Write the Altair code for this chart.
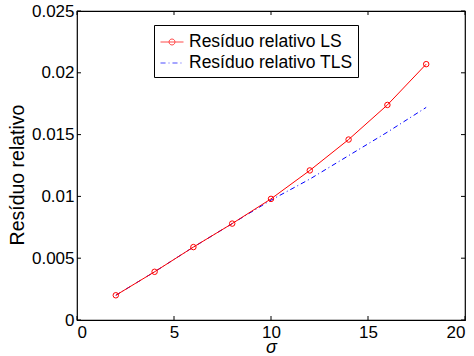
import altair as alt
import pandas as pd

sigma = [2, 4, 6, 8, 10, 12, 14, 16, 18]
res_ls = [0.0020, 0.0039, 0.0059, 0.0078, 0.0098, 0.0121, 0.0146, 0.0174, 0.0207]
res_tls = [0.0020, 0.0039, 0.0059, 0.0078, 0.0097, 0.0114, 0.0133, 0.0152, 0.0172]
series_names = ["Resíduo relativo LS", "Resíduo relativo TLS"]
x_ticks = [0, 5, 10, 15, 20]
y_ticks = [0, 0.005, 0.01, 0.015, 0.02, 0.025]

W, H = 388, 309
FONT = "Liberation Sans"

rows = []
for s, a, b in zip(sigma, res_ls, res_tls):
    rows.append({"sigma": s, "value": a, "series": series_names[0]})
    rows.append({"sigma": s, "value": b, "series": series_names[1]})
df = pd.DataFrame(rows)

xscale = alt.Scale(domain=[0, 20], nice=False, zero=False)
yscale = alt.Scale(domain=[0, 0.025], nice=False, zero=False)

xaxis = alt.Axis(values=x_ticks, grid=False, ticks=False, domain=False,
                 labelFont=FONT, labelFontSize=17, labelColor="black",
                 labelPadding=4, title="σ", titleFont=FONT, titleFontSize=18,
                 titleFontStyle="italic", titleFontWeight="normal",
                 titleColor="black", titlePadding=-2)
yaxis = alt.Axis(values=y_ticks, grid=False, ticks=False, domain=False, format="~g",
                 labelFont=FONT, labelFontSize=17, labelColor="black",
                 labelPadding=3, title="Resíduo relativo", titleFont=FONT,
                 titleFontSize=19.5, titleFontWeight="normal", titleColor="black",
                 titlePadding=4, titleY=H / 2 + 9)

base = alt.Chart(df)

ls_line = base.transform_filter(alt.datum.series == series_names[0]).mark_line(
    color="#ff0000", strokeWidth=1
).encode(
    x=alt.X("sigma:Q", scale=xscale, axis=xaxis),
    y=alt.Y("value:Q", scale=yscale, axis=yaxis),
)
ls_pts = base.transform_filter(alt.datum.series == series_names[0]).mark_point(
    shape="circle", filled=False, size=30, color="#ff0000", strokeWidth=1, opacity=1
).encode(x=alt.X("sigma:Q", scale=xscale), y=alt.Y("value:Q", scale=yscale))
tls_line = base.transform_filter(alt.datum.series == series_names[1]).mark_line(
    color="#0000ff", strokeWidth=1, strokeDash=[5, 3, 1, 3]
).encode(x=alt.X("sigma:Q", scale=xscale), y=alt.Y("value:Q", scale=yscale))

ls_sym = ("M-1,0 L1,0 M-0.26,0 A0.26,0.26 0 1,1 0.26,0 A0.26,0.26 0 1,1 -0.26,0")
tls_sym = ("M-1,0 L-0.56,0 M-0.3,0 L-0.22,0 M0.04,0 L0.48,0 M0.74,0 L0.82,0")

legend_layer = base.transform_filter("false").mark_point(filled=False, strokeWidth=1).encode(
    x=alt.X("sigma:Q", scale=xscale),
    y=alt.Y("value:Q", scale=yscale),
    color=alt.Color("series:N",
                    scale=alt.Scale(domain=series_names, range=["#ff0000", "#0000ff"]),
                    legend=alt.Legend(title=None, orient="none", legendX=77, legendY=14,
                                      labelFont=FONT, labelFontSize=17.5, labelColor="black",
                                      symbolSize=529, symbolStrokeWidth=1,
                                      labelOffset=5, rowPadding=0, padding=5,
                                      symbolOffset=1,
                                      strokeColor="black", fillColor="white",
                                      labelLimit=400)),
    shape=alt.Shape("series:N",
                    scale=alt.Scale(domain=series_names, range=[ls_sym, tls_sym])),
)

x_tick_df = pd.DataFrame({"t": x_ticks})
y_tick_df = pd.DataFrame({"t": y_ticks})
xt_bot = alt.Chart(x_tick_df).mark_rule(color="black", strokeWidth=1).encode(
    x=alt.X("t:Q", scale=xscale), y=alt.value(H), y2=alt.value(H - 4))
xt_top = alt.Chart(x_tick_df).mark_rule(color="black", strokeWidth=1).encode(
    x=alt.X("t:Q", scale=xscale), y=alt.value(0), y2=alt.value(4))
yt_left = alt.Chart(y_tick_df).mark_rule(color="black", strokeWidth=1).encode(
    y=alt.Y("t:Q", scale=yscale), x=alt.value(0), x2=alt.value(4))
yt_right = alt.Chart(y_tick_df).mark_rule(color="black", strokeWidth=1).encode(
    y=alt.Y("t:Q", scale=yscale), x=alt.value(W), x2=alt.value(W - 4))

chart = alt.layer(
    xt_bot, xt_top, yt_left, yt_right, tls_line, ls_line, ls_pts, legend_layer
).properties(
    width=W, height=H,
    autosize=alt.AutoSizeParams(type="none"),
    padding={"left": 77, "top": 11, "right": 9, "bottom": 36},
    background="white",
).configure_view(stroke="black", strokeWidth=1.2)

chart.save("out.html", embed_options={"renderer": "svg", "actions": False})
